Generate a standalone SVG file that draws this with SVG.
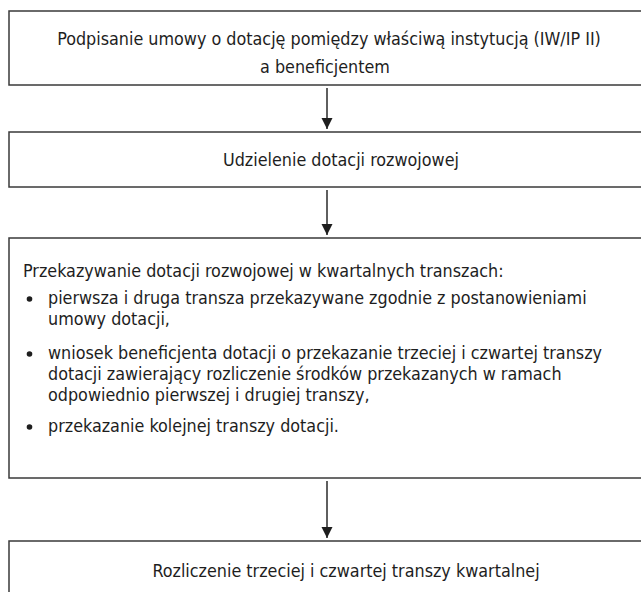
<svg xmlns="http://www.w3.org/2000/svg" width="641" height="592" viewBox="0 0 641 592">
  <style>
    .box { fill: #ffffff; stroke: #3a3a3a; stroke-width: 1.5; }
    .t { font-family: "DejaVu Sans Condensed", "DejaVu Sans", sans-serif; font-size: 17.8px; fill: #1e1e1e; }
    .c { text-anchor: middle; }
    .edge { stroke: #2a2a2a; stroke-width: 1.5; fill: none; marker-end: url(#head); }
    .dot { fill: #1e1e1e; }
  </style>
  <defs>
    <marker id="head" viewBox="0 0 10 10" refX="10" refY="5" markerWidth="7.5" markerHeight="8" markerUnits="strokeWidth" orient="auto">
      <path d="M0,0 L10,5 L0,10 Z" fill="#1e1e1e"/>
    </marker>
  </defs>
  <rect width="641" height="592" fill="#ffffff"/>

  <g id="node-umowa">
    <rect class="box" x="9" y="11" width="640" height="74"/>
    <text class="t c" x="329" y="45">Podpisanie umowy o dotację pomiędzy właściwą instytucją (IW/IP II)</text>
    <text class="t c" x="325" y="73">a beneficjentem</text>
  </g>

  <g id="node-udzielenie">
    <rect class="box" x="9" y="132" width="640" height="55"/>
    <text class="t c" x="341" y="166">Udzielenie dotacji rozwojowej</text>
  </g>

  <g id="node-przekazywanie">
    <rect class="box" x="9" y="238" width="640" height="240"/>
    <text class="t" x="23" y="277">Przekazywanie dotacji rozwojowej w kwartalnych transzach:</text>
    <circle class="dot" cx="29.5" cy="299" r="2.8"/>
    <text class="t" x="48" y="304">pierwsza i druga transza przekazywane zgodnie z postanowieniami</text>
    <text class="t" x="48" y="325">umowy dotacji,</text>
    <circle class="dot" cx="29.5" cy="354" r="2.8"/>
    <text class="t" x="48" y="359">wniosek beneficjenta dotacji o przekazanie trzeciej i czwartej transzy</text>
    <text class="t" x="48" y="380">dotacji zawierający rozliczenie środków przekazanych w ramach</text>
    <text class="t" x="48" y="401">odpowiednio pierwszej i drugiej transzy,</text>
    <circle class="dot" cx="29.5" cy="427" r="2.8"/>
    <text class="t" x="48" y="432">przekazanie kolejnej transzy dotacji.</text>
  </g>

  <g id="node-rozliczenie">
    <rect class="box" x="9" y="541" width="640" height="70"/>
    <text class="t c" x="346" y="577">Rozliczenie trzeciej i czwartej transzy kwartalnej</text>
  </g>

  <g id="connectors">
    <line class="edge" x1="327" y1="88" x2="327" y2="129"/>
    <line class="edge" x1="327" y1="190" x2="327" y2="235"/>
    <line class="edge" x1="327" y1="481" x2="327" y2="538"/>
  </g>
</svg>
